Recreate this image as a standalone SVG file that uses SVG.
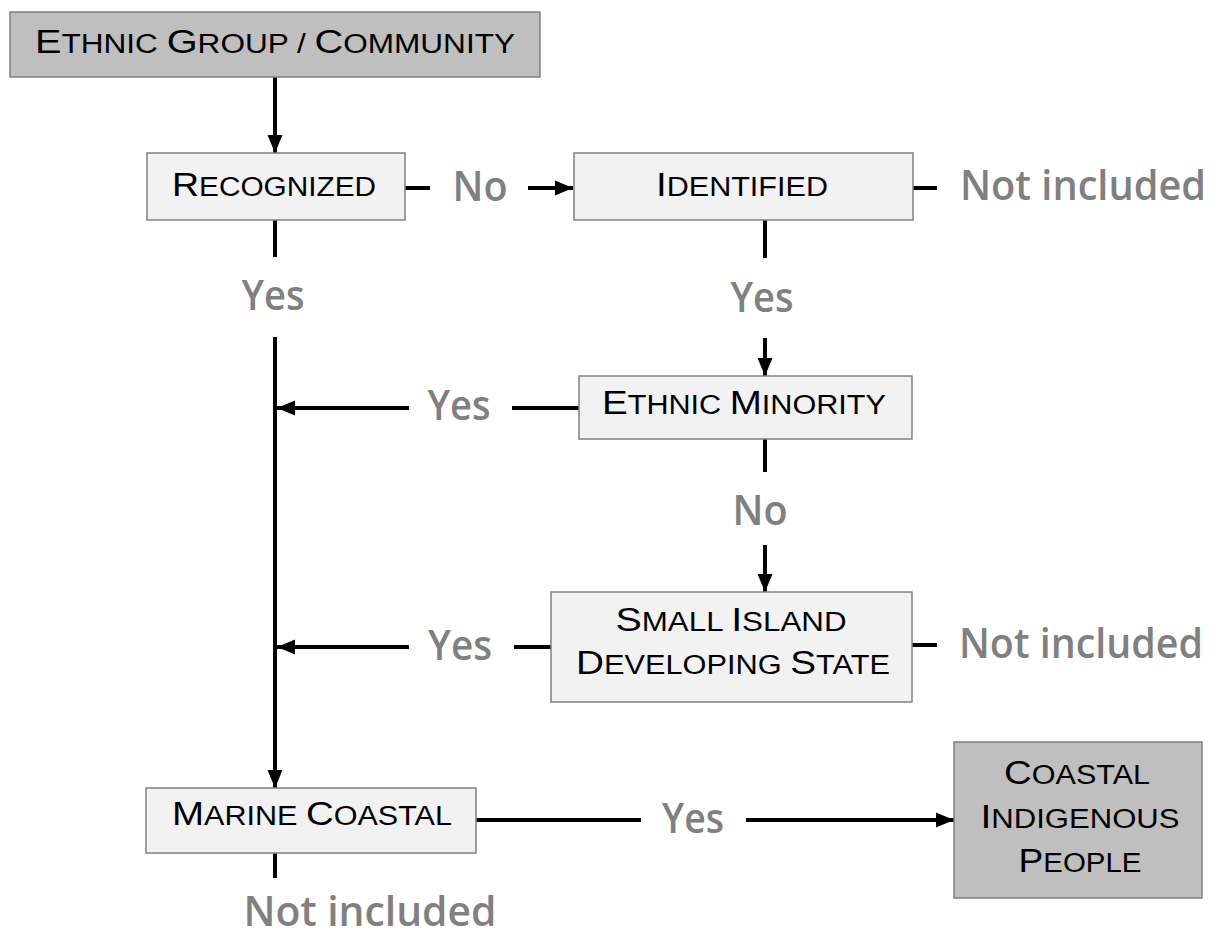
<svg xmlns="http://www.w3.org/2000/svg" width="1216" height="936" viewBox="0 0 1216 936">
<style>
.box{fill:#f2f2f2;stroke:#808080;stroke-width:1.5}
.dark{fill:#bfbfbf;stroke:#808080;stroke-width:1.5}
.t{font-family:"Liberation Sans",Arial,sans-serif;fill:#000;text-anchor:middle}
.L{font-size:34px}
.S{font-size:27px}
.g{font-family:"Open Sans",sans-serif;font-size:41px;font-weight:600;fill:#808080;text-anchor:middle}
.c{stroke:#000;stroke-width:4;fill:none}
</style>
<defs>
<marker id="ah" markerUnits="userSpaceOnUse" markerWidth="18" markerHeight="18" viewBox="0 0 18 18" refX="18" refY="9" orient="auto">
<path d="M0,1.5 L18,9 L0,16.5 Z" fill="#000"/>
</marker>
</defs>
<rect width="1216" height="936" fill="#fff"/>
<g id="connectors">
<line class="c" x1="275" y1="77" x2="275" y2="153" marker-end="url(#ah)"/>
<line class="c" x1="405" y1="188" x2="430" y2="188"/>
<line class="c" x1="528" y1="188" x2="573" y2="188" marker-end="url(#ah)"/>
<line class="c" x1="913" y1="188" x2="937" y2="188"/>
<line class="c" x1="275" y1="220" x2="275" y2="257"/>
<line class="c" x1="275" y1="337" x2="275" y2="788" marker-end="url(#ah)"/>
<line class="c" x1="765" y1="220" x2="765" y2="258"/>
<line class="c" x1="765" y1="338" x2="765" y2="376" marker-end="url(#ah)"/>
<line class="c" x1="579" y1="408" x2="512" y2="408"/>
<line class="c" x1="409" y1="408" x2="277" y2="408" marker-end="url(#ah)"/>
<line class="c" x1="765" y1="439" x2="765" y2="472"/>
<line class="c" x1="765" y1="545" x2="765" y2="592" marker-end="url(#ah)"/>
<line class="c" x1="551" y1="647" x2="514" y2="647"/>
<line class="c" x1="409" y1="647" x2="277" y2="647" marker-end="url(#ah)"/>
<line class="c" x1="912" y1="645" x2="937" y2="645"/>
<line class="c" x1="476" y1="820" x2="641" y2="820"/>
<line class="c" x1="746" y1="820" x2="954" y2="820" marker-end="url(#ah)"/>
<line class="c" x1="275" y1="853" x2="275" y2="878"/>
</g>
<g id="labels">
<text class="g" x="480" y="201" textLength="55" lengthAdjust="spacingAndGlyphs">No</text>
<text class="g" x="1083" y="200" textLength="246" lengthAdjust="spacingAndGlyphs">Not included</text>
<text class="g" x="273" y="310" textLength="63" lengthAdjust="spacingAndGlyphs">Yes</text>
<text class="g" x="762" y="312" textLength="63" lengthAdjust="spacingAndGlyphs">Yes</text>
<text class="g" x="459" y="420" textLength="63" lengthAdjust="spacingAndGlyphs">Yes</text>
<text class="g" x="760" y="525" textLength="55" lengthAdjust="spacingAndGlyphs">No</text>
<text class="g" x="460" y="660" textLength="64" lengthAdjust="spacingAndGlyphs">Yes</text>
<text class="g" x="1081" y="658" textLength="244" lengthAdjust="spacingAndGlyphs">Not included</text>
<text class="g" x="693" y="833" textLength="62" lengthAdjust="spacingAndGlyphs">Yes</text>
<text class="g" x="370" y="926" textLength="253" lengthAdjust="spacingAndGlyphs">Not included</text>
</g>
<g id="n-ethnic-group">
<rect class="dark" x="10" y="12" width="530" height="65"/>
<text class="t" x="275" y="53" textLength="480" lengthAdjust="spacingAndGlyphs"><tspan class="L">E</tspan><tspan class="S">THNIC </tspan><tspan class="L">G</tspan><tspan class="S">ROUP / </tspan><tspan class="L">C</tspan><tspan class="S">OMMUNITY</tspan></text>
</g>
<g id="n-recognized">
<rect class="box" x="147" y="153" width="258" height="67"/>
<text class="t" x="274" y="196" textLength="204" lengthAdjust="spacingAndGlyphs"><tspan class="L">R</tspan><tspan class="S">ECOGNIZED</tspan></text>
</g>
<g id="n-identified">
<rect class="box" x="574" y="153" width="339" height="67"/>
<text class="t" x="742" y="196" textLength="172" lengthAdjust="spacingAndGlyphs"><tspan class="L">I</tspan><tspan class="S">DENTIFIED</tspan></text>
</g>
<g id="n-ethnic-minority">
<rect class="box" x="579" y="376" width="333" height="63"/>
<text class="t" x="744" y="414" textLength="284" lengthAdjust="spacingAndGlyphs"><tspan class="L">E</tspan><tspan class="S">THNIC </tspan><tspan class="L">M</tspan><tspan class="S">INORITY</tspan></text>
</g>
<g id="n-sids">
<rect class="box" x="551" y="592" width="361" height="110"/>
<text class="t" x="731" y="631" textLength="231" lengthAdjust="spacingAndGlyphs"><tspan class="L">S</tspan><tspan class="S">MALL </tspan><tspan class="L">I</tspan><tspan class="S">SLAND</tspan></text>
<text class="t" x="733" y="674" textLength="314" lengthAdjust="spacingAndGlyphs"><tspan class="L">D</tspan><tspan class="S">EVELOPING </tspan><tspan class="L">S</tspan><tspan class="S">TATE</tspan></text>
</g>
<g id="n-marine-coastal">
<rect class="box" x="146" y="788" width="330" height="65"/>
<text class="t" x="312" y="825" textLength="280" lengthAdjust="spacingAndGlyphs"><tspan class="L">M</tspan><tspan class="S">ARINE </tspan><tspan class="L">C</tspan><tspan class="S">OASTAL</tspan></text>
</g>
<g id="n-coastal-indigenous">
<rect class="dark" x="954" y="742" width="248" height="156"/>
<text class="t" x="1077" y="784" textLength="146" lengthAdjust="spacingAndGlyphs"><tspan class="L">C</tspan><tspan class="S">OASTAL</tspan></text>
<text class="t" x="1080" y="828" textLength="199" lengthAdjust="spacingAndGlyphs"><tspan class="L">I</tspan><tspan class="S">NDIGENOUS</tspan></text>
<text class="t" x="1080" y="872" textLength="123" lengthAdjust="spacingAndGlyphs"><tspan class="L">P</tspan><tspan class="S">EOPLE</tspan></text>
</g>
</svg>
